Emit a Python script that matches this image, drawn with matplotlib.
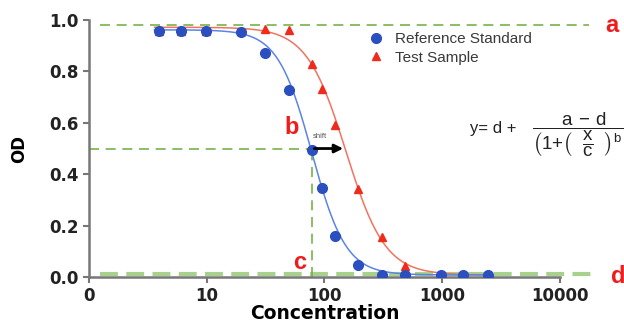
import numpy as np
import matplotlib
matplotlib.use('Agg')
import matplotlib.pyplot as plt

plt.rcParams['font.family'] = ['Liberation Sans', 'DejaVu Sans']
plt.rcParams['mathtext.fontset'] = 'custom'
plt.rcParams['mathtext.rm'] = 'Liberation Sans'
plt.rcParams['mathtext.default'] = 'regular'

# Data
conc = [3.9, 6.1, 9.8, 19.4, 31, 49.5, 77.6, 96, 124, 194, 310, 486, 980, 1510, 2450]
ref_od = [0.957, 0.957, 0.957, 0.953, 0.872, 0.728, 0.494, 0.347, 0.161, 0.047,
          0.008, 0.008, 0.008, 0.008, 0.008]
test_od = [0.957, 0.957, 0.957, 0.957, 0.965, 0.96, 0.83, 0.73, 0.59, 0.342,
           0.156, 0.043, 0.01, 0.01, 0.01]

# 4PL fit parameters (a, b, c, d)
ref_fit = (0.962, 3.0, 78.0, 0.008)
test_fit = (0.972, 2.6, 152.0, 0.008)

x_ticks = [1, 10, 100, 1000, 10000]
x_labels = ['0', '10', '100', '1000', '10000']
y_ticks = [0.0, 0.2, 0.4, 0.6, 0.8, 1.0]

upper_asym = 0.98
lower_asym = 0.012
ec50_ref = 77.6

green = '#77b24a'
blue_pt = '#2b4fbf'
blue_ln = '#5a85e6'
red_pt = '#ef2b1c'
red_ln = '#f2735f'
label_red = '#ee1c1c'


def four_pl(x, a, b, c, d):
    return d + (a - d) / (1 + (x / c) ** b)


fig = plt.figure(figsize=(6.24, 3.25), dpi=100)
ax = fig.add_axes([0.1426, 0.1477, 0.7548, 0.7906])
ax.set_xscale('log')
ax.set_xlim(1, 10000)
ax.set_ylim(0, 1.0)

# fitted curves
xs = np.logspace(np.log10(3.6), np.log10(2600), 300)
ax.plot(xs, four_pl(xs, *test_fit), color=red_ln, lw=1.1, zorder=2)
ax.plot(xs, four_pl(xs, *ref_fit), color=blue_ln, lw=1.1, zorder=2)

# reference lines
ax.plot([1.24, 17600], [upper_asym, upper_asym], ls=(0, (6, 4)), color=green,
        lw=1.2, clip_on=False, zorder=1)
ax.plot([1.24, 18500], [lower_asym, lower_asym], ls=(0, (4.3, 2)), color='#a9d18e',
        lw=3, clip_on=False, zorder=1)
ax.plot([1, ec50_ref], [0.5, 0.5], ls=(0, (6, 4)), color=green, lw=1.2, zorder=1)
ax.plot([ec50_ref, ec50_ref], [0, 0.5], ls=(0, (6, 4)), color=green, lw=1.2, zorder=1)

# data points
ax.plot(conc, test_od, ls='none', marker='^', ms=6, color=red_pt, zorder=3,
        label='Test Sample')
ax.plot(conc, ref_od, ls='none', marker='o', ms=7, color=blue_pt, zorder=4,
        label='Reference Standard')

# shift arrow
ax.annotate('', xy=(152, 0.5), xytext=(ec50_ref, 0.5),
            arrowprops=dict(arrowstyle='-|>,head_width=0.25,head_length=0.5',
                            color='black', lw=2), zorder=5)
ax.text(92, 0.535, 'shift', fontsize=5.5, color='#555555', ha='center', va='bottom')

# letters
ax.text(53, 0.58, 'b', fontsize=17, fontweight='bold', color=label_red,
        ha='center', va='center')
ax.text(61, 0.055, 'c', fontsize=17, fontweight='bold', color=label_red,
        ha='center', va='center')
fig.text(0.98, 0.922, 'a', fontsize=17, fontweight='bold', color=label_red,
         ha='center', va='center')
fig.text(0.99, 0.15, 'd', fontsize=17, fontweight='bold', color=label_red,
         ha='center', va='center')

# equation (runs off the right edge, as in the original)
fig.text(0.753, 0.606, 'y= d +', fontsize=12, color='#222222', ha='left', va='center')
fig.text(0.853, 0.585,
         r'$\dfrac{a\,-\,d}{\left(1{+}\left(\;\;\dfrac{x}{c}\;\;\right)^{b}\;\right)}$',
         fontsize=13.5, color='#222222', ha='left', va='center')

# legend
handles, labels = ax.get_legend_handles_labels()
ax.legend(handles[::-1], labels[::-1], loc='upper left', bbox_to_anchor=(0.568, 1.0),
          frameon=False, fontsize=11, handlelength=1.0, handletextpad=0.75,
          labelspacing=0.28, labelcolor='#3a3a3a', borderpad=0.3)

# axes styling
for side in ['top', 'right']:
    ax.spines[side].set_visible(False)
for side in ['left', 'bottom']:
    ax.spines[side].set_color('#777777')
    ax.spines[side].set_linewidth(1.8)
ax.set_xticks(x_ticks)
ax.set_xticklabels(x_labels)
ax.xaxis.set_minor_locator(matplotlib.ticker.NullLocator())
ax.set_yticks(y_ticks)
ax.set_yticklabels([f'{v:.1f}' for v in y_ticks])
ax.tick_params(axis='both', colors='#777777', width=1.5, length=4,
               labelcolor='#222222')
for lbl in ax.get_xticklabels() + ax.get_yticklabels():
    lbl.set_fontweight('bold')
    lbl.set_fontfamily('DejaVu Sans')
    lbl.set_fontsize(12)
ax.set_xlabel('Concentration', fontsize=13.5, fontweight='bold', labelpad=-1,
              family='DejaVu Sans')
ax.set_ylabel('OD', fontsize=12, fontweight='bold', labelpad=15,
              family='DejaVu Sans')

fig.savefig('out.png', dpi=100)
